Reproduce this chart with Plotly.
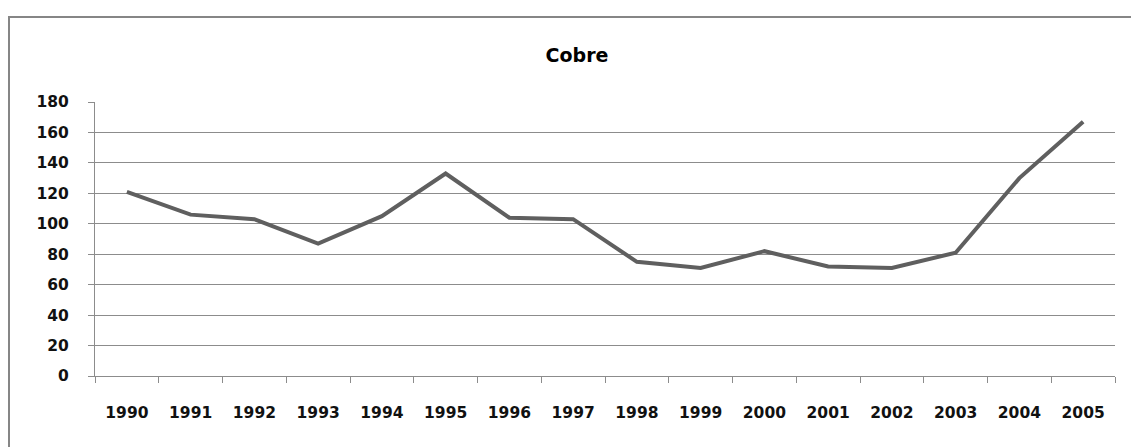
import plotly.graph_objects as go

# Copper index by year
years = ["1990", "1991", "1992", "1993", "1994", "1995", "1996", "1997",
         "1998", "1999", "2000", "2001", "2002", "2003", "2004", "2005"]
cobre = [121, 106, 103, 87, 105, 133, 104, 103,
         75, 71, 82, 72, 71, 81, 130, 167]
y_ticks = [0, 20, 40, 60, 80, 100, 120, 140, 160, 180]

W, H = 1131, 447
ML, MR, MT, MB = 95, 16, 102, 71

fig = go.Figure(go.Scatter(
    x=years, y=cobre, mode="lines",
    line=dict(color="#5f5f5f", width=4),
    hoverinfo="x+y",
))

font = dict(family="DejaVu Sans", size=15.5, color="#111111", weight="bold")

pw = W - ML - MR
ph = H - MT - MB

# outer chart frame (left and top edges fall inside the page)
fx0 = (9 - ML) / pw
fx1 = (1145 - ML) / pw
fy1 = (H - MB - 17) / ph
fy0 = (H - MB - 470) / ph

fig.update_layout(
    width=W, height=H,
    margin=dict(l=ML, r=MR, t=MT, b=MB),
    paper_bgcolor="white", plot_bgcolor="white",
    showlegend=False,
    title=dict(text="<b>Cobre</b>", x=577 / W, xanchor="center",
               y=1 - 55 / H, yanchor="middle",
               font=dict(family="DejaVu Sans", size=19, color="#000000")),
    shapes=[dict(type="rect", xref="paper", yref="paper",
                 x0=fx0, x1=fx1, y0=fy0, y1=fy1,
                 line=dict(color="#868686", width=2), layer="below")],
    xaxis=dict(
        type="category", range=[-0.5, len(years) - 0.5],
        showgrid=False, showline=True, linecolor="#8c8c8c", linewidth=1,
        ticks="outside", tickson="boundaries", ticklen=6, tickcolor="#8c8c8c",
        tickfont=font,
        ticklabelstandoff=22,
    ),
    yaxis=dict(
        range=[0, 180], tickvals=y_ticks,
        showgrid=True, gridcolor="#8c8c8c", gridwidth=1,
        showline=True, linecolor="#8c8c8c", linewidth=1,
        ticks="outside", ticklen=6, tickcolor="#8c8c8c",
        tickfont=font,
        ticklabelstandoff=16,
        zeroline=False,
    ),
)

fig.write_html("out.html")
